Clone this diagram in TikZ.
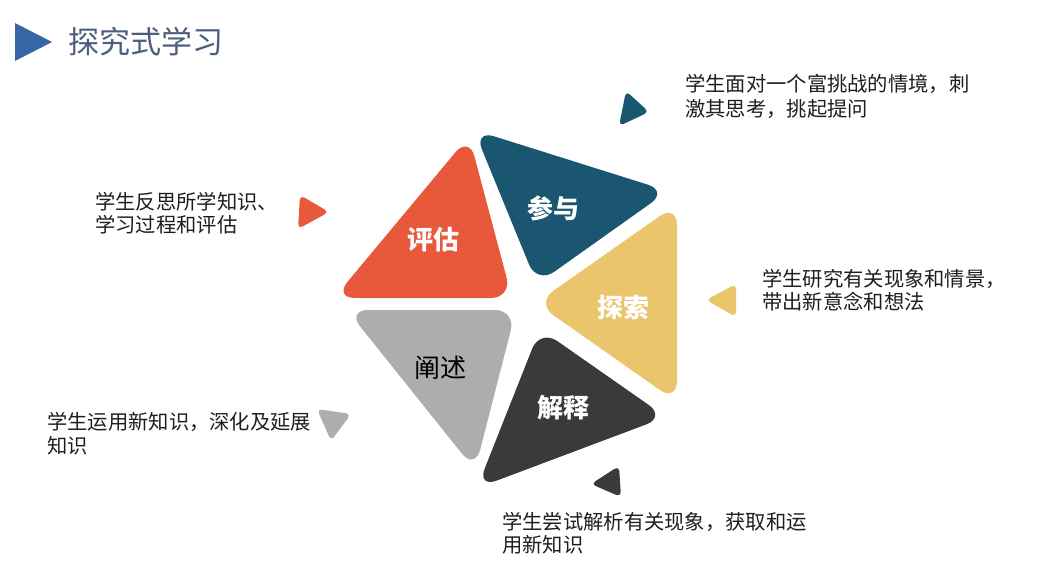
\documentclass[tikz,border=0pt]{standalone}
\usepackage{fontspec}
\setmainfont{Noto Sans CJK SC}
\definecolor{cOrange}{HTML}{E8583B}
\definecolor{cTeal}{HTML}{1B5671}
\definecolor{cYellow}{HTML}{EBC56C}
\definecolor{cDark}{HTML}{3A3A3A}
\definecolor{cLight}{HTML}{ADADAD}
\definecolor{cTitleTri}{HTML}{3666A6}
\definecolor{cTitle}{HTML}{4B5E80}
\definecolor{cText}{HTML}{1E1E1E}
\begin{document}
\begin{tikzpicture}[x=1pt,y=-1pt,
  bigtri/.style={rounded corners=21pt},
  smalltri/.style={rounded corners=5pt},
  lab/.style={inner sep=0pt,anchor=center,font=\fontsize{26}{30}\selectfont\bfseries,text=white},
  desc/.style={inner sep=0pt,anchor=base west,font=\fontsize{20.3}{24}\selectfont,text=cText}]
\useasboundingbox (0,0) rectangle (1060,570);
\fill[white] (0,0) rectangle (1060,570);

% title
\fill[cTitleTri] (15,23) -- (52,42) -- (15,61) -- cycle;
\node[inner sep=0pt,anchor=west,font=\fontsize{31}{34}\selectfont,text=cTitle] (title) at (68,42) {探究式学习};

% big triangles
\fill[cOrange,bigtri] (469,136) -- (512,298) -- (334,298) -- cycle;
\fill[cTeal,bigtri] (474,130) -- (668,191) -- (537,284) -- cycle;
\fill[cYellow,bigtri] (677,204) -- (677,402) -- (536,303) -- cycle;
\fill[cDark,bigtri] (540,329) -- (666,417) -- (477,488) -- cycle;
\fill[cLight,bigtri] (347,310) -- (516,310) -- (475,470) -- cycle;

% labels
\node[lab] (pg) at (433,240) {评估};
\node[lab] (cy) at (553,208) {参与};
\node[lab] (ts) at (623,308) {探索};
\node[lab,text=black,font=\fontsize{26}{30}\selectfont] (cs) at (440,368) {阐述};
\node[lab] (js) at (563,408) {解释};

% small triangles
\fill[cTeal,smalltri] (626,91) -- (649,112) -- (619,126) -- cycle;
\fill[cOrange,smalltri] (300,195) -- (329,212) -- (298,229) -- cycle;
\fill[cYellow,smalltri] (736,284) -- (736,317) -- (706,300) -- cycle;
\fill[cLight,smalltri] (317,409) -- (351,414) -- (331,441) -- cycle;
\fill[cDark,smalltri] (619,466) -- (621,497) -- (591,484) -- cycle;

% descriptions
\node[desc] (d1a) at (685,91.6) {学生面对一个富挑战的情境，刺};
\node[desc] (d1b) at (685,116.6) {激其思考，挑起提问};
\node[desc] (d2a) at (95,209) {学生反思所学知识、};
\node[desc] (d2b) at (95,232) {学习过程和评估};
\node[desc] (d3a) at (762,286.6) {学生研究有关现象和情景，};
\node[desc] (d3b) at (762,309.6) {带出新意念和想法};
\node[desc] (d4a) at (47,429.6) {学生运用新知识，深化及延展};
\node[desc] (d4b) at (47,453.6) {知识};
\node[desc] (d5a) at (502,529.6) {学生尝试解析有关现象，获取和运};
\node[desc] (d5b) at (502,552) {用新知识};
\end{tikzpicture}
\end{document}
